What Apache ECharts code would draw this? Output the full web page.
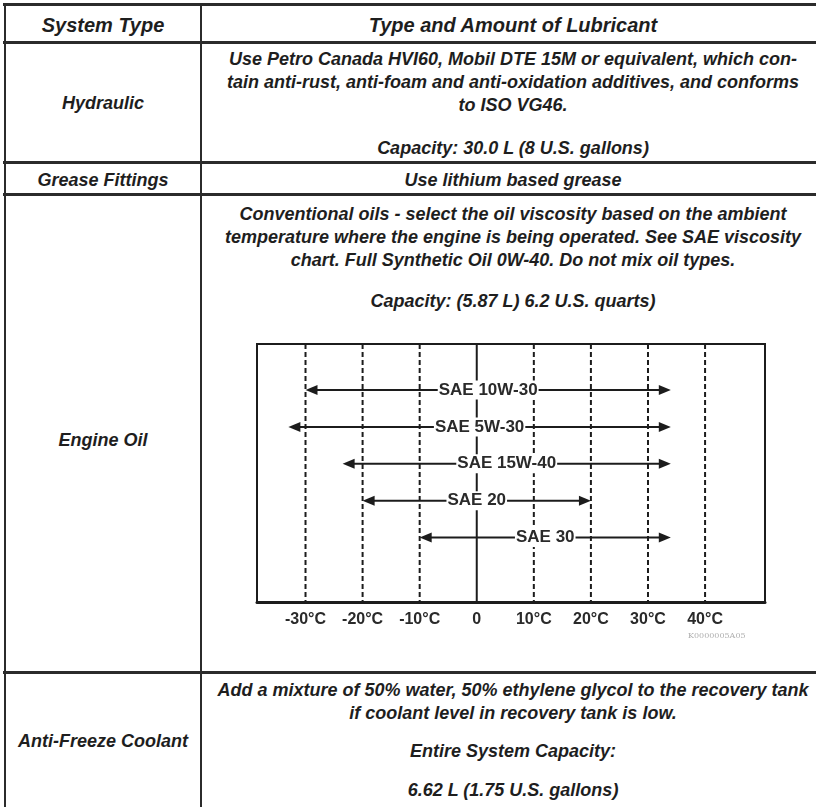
<!DOCTYPE html>
<html>
<head>
<meta charset="utf-8">
<title>Lubricant table</title>
<script src="https://cdn.jsdelivr.net/npm/echarts@6/dist/echarts.min.js"></script>
<style>
  body { margin: 0; background: #fff; }
  .page {
    position: relative; width: 816px; height: 807px; overflow: hidden;
    font-family: "Liberation Sans", Arial, sans-serif;
    font-weight: bold; font-style: italic; color: #1e1e1e;
  }
  .hline { position: absolute; left: 3px; width: 830px; height: 3px; background: #2b2b2b; }
  .vline { position: absolute; top: 3px; width: 2px; height: 810px; background: #2b2b2b; }
  .txt { position: absolute; text-align: center; font-size: 18px; line-height: 23px; white-space: nowrap; }
  .left { left: 5px; width: 196px; }
  .right { left: 201px; width: 624px; }
  .head { font-size: 20px; }
  #chartOil { position: absolute; left: 230px; top: 320px; width: 580px; height: 340px; }
</style>
</head>
<body>
<div class="page">
  <!-- table rules -->
  <div class="hline" style="top:3px"></div>
  <div class="hline" style="top:41px"></div>
  <div class="hline" style="top:161px"></div>
  <div class="hline" style="top:193px"></div>
  <div class="hline" style="top:671px"></div>
  <div class="vline" style="left:4px"></div>
  <div class="vline" style="left:200px"></div>
  <div class="vline" style="left:824px"></div>

  <!-- header -->
  <div class="txt left head" style="top:14px">System Type</div>
  <div class="txt right head" style="top:14px">Type and Amount of Lubricant</div>

  <!-- hydraulic -->
  <div class="txt left" style="top:92px">Hydraulic</div>
  <div class="txt right" style="top:48px">Use Petro Canada HVI60, Mobil DTE 15M or equivalent, which con-<br>tain anti-rust, anti-foam and anti-oxidation additives, and conforms<br>to ISO VG46.</div>
  <div class="txt right" style="top:137px">Capacity: 30.0 L (8 U.S. gallons)</div>

  <!-- grease -->
  <div class="txt left" style="top:169px">Grease Fittings</div>
  <div class="txt right" style="top:169px">Use lithium based grease</div>

  <!-- engine oil -->
  <div class="txt left" style="top:429px">Engine Oil</div>
  <div class="txt right" style="top:203px">Conventional oils - select the oil viscosity based on the ambient<br>temperature where the engine is being operated. See SAE viscosity<br>chart. Full Synthetic Oil 0W-40. Do not mix oil types.</div>
  <div class="txt right" style="top:290px">Capacity: (5.87 L) 6.2 U.S. quarts)</div>
  <div id="chartOil"></div>

  <!-- coolant -->
  <div class="txt left" style="top:730px">Anti-Freeze Coolant</div>
  <div class="txt right" style="top:679px">Add a mixture of 50% water, 50% ethylene glycol to the recovery tank<br>if coolant level in recovery tank is low.</div>
  <div class="txt right" style="top:740px">Entire System Capacity:</div>
  <div class="txt right" style="top:779px">6.62 L (1.75 U.S. gallons)</div>
</div>

<script>
  // ambient temperature ticks (°C)
  var tempTicks = [-30, -20, -10, 0, 10, 20, 30, 40];
  // oil grades and their temperature range
  var grades = ['SAE 10W-30', 'SAE 5W-30', 'SAE 15W-40', 'SAE 20', 'SAE 30'];
  var gradeLow = [-30, -33, -23.5, -20, -10];
  var gradeHigh = [34, 34, 34, 20, 34];
  var gradeRow = [23, 19, 15, 11, 7];

  var ink = '#1c1c1c';
  var chartFont = '"Liberation Sans", Arial, sans-serif';

  var myChart = echarts.init(document.getElementById('chartOil'), null, { renderer: 'canvas' });

  var gradeData = grades.map(function (g, i) {
    return [gradeLow[i], gradeHigh[i], gradeRow[i]];
  });

  var option = {
    animation: false,
    grid: {
      left: 27, top: 24, width: 508, height: 258,
      show: true, borderColor: ink, borderWidth: 2
    },
    xAxis: {
      type: 'value',
      min: -38.5,
      max: 50.5,
      axisLine: { show: true, onZero: false, lineStyle: { color: ink, width: 3 } },
      axisTick: { show: false },
      splitLine: { show: false },
      axisLabel: {
        customValues: tempTicks,
        margin: 10,
        fontSize: 16,
        fontWeight: 'bold',
        fontFamily: chartFont,
        color: '#2a2a2a',
        formatter: function (v) { return v === 0 ? '0' : v + '°C'; }
      }
    },
    yAxis: { type: 'value', min: 0, max: 28, show: false },
    graphic: [{
      type: 'text', left: 458, top: 312,
      style: { text: 'K0000005A05', font: '8px "DejaVu Serif", serif', fill: '#b0b0b0' }
    }],
    series: [
      {
        // vertical temperature guides
        type: 'custom',
        z: 1,
        data: tempTicks.map(function (t) { return [t, 0]; }),
        renderItem: function (params, api) {
          var top = api.coord([api.value(0), 28]);
          var bot = api.coord([api.value(0), 0]);
          var solid = api.value(0) === 0;
          return {
            type: 'line',
            shape: { x1: top[0], y1: top[1], x2: bot[0], y2: bot[1] },
            style: { stroke: ink, lineWidth: 2, lineDash: solid ? null : [5, 3] }
          };
        }
      },
      {
        // grade arrows
        type: 'custom',
        z: 5,
        data: gradeData,
        renderItem: function (params, api) {
          var s = api.coord([api.value(0), api.value(2)]);
          var e = api.coord([api.value(1), api.value(2)]);
          var y = s[1];
          var L = 12, h = 5;
          return {
            type: 'group',
            children: [
              { type: 'line', shape: { x1: s[0] + L - 2, y1: y, x2: e[0] - L + 2, y2: y }, style: { stroke: ink, lineWidth: 2 } },
              { type: 'polygon', shape: { points: [[s[0], y], [s[0] + L, y - h], [s[0] + L, y + h]] }, style: { fill: ink } },
              { type: 'polygon', shape: { points: [[e[0], y], [e[0] - L, y - h], [e[0] - L, y + h]] }, style: { fill: ink } },
              {
                type: 'text', x: (s[0] + e[0]) / 2, y: y, z2: 10,
                style: {
                  text: grades[params.dataIndex], align: 'center', verticalAlign: 'middle',
                  font: 'bold 17px ' + chartFont, fill: '#2a2a2a',
                  backgroundColor: '#fff', padding: [1, 1]
                }
              }
            ]
          };
        }
      }
    ]
  };
  myChart.setOption(option);
</script>
</body>
</html>
